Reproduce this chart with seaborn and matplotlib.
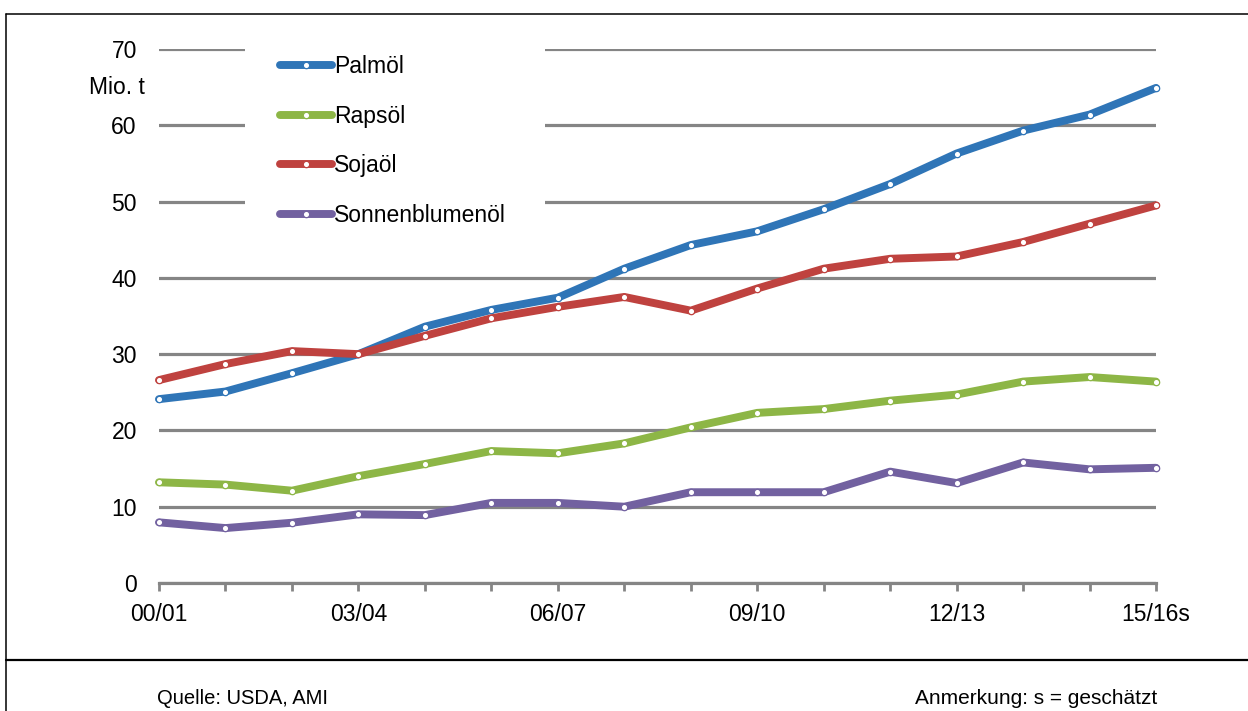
import matplotlib
matplotlib.use("Agg")
import matplotlib.pyplot as plt
from matplotlib.lines import Line2D
from matplotlib.patches import Rectangle
import numpy as np
import pandas as pd
import seaborn as sns

# Marketing years
years = ["00/01", "01/02", "02/03", "03/04", "04/05", "05/06", "06/07", "07/08",
         "08/09", "09/10", "10/11", "11/12", "12/13", "13/14", "14/15", "15/16s"]

# Production in Mio. t
palmoel = [24.1, 25.1, 27.5, 30.0, 33.6, 35.8, 37.4, 41.2,
           44.3, 46.1, 49.0, 52.3, 56.3, 59.3, 61.4, 64.9]
rapsoel = [13.2, 12.9, 12.1, 14.0, 15.6, 17.3, 17.0, 18.3,
           20.4, 22.3, 22.8, 23.9, 24.7, 26.4, 27.0, 26.4]
sojaoel = [26.6, 28.7, 30.4, 30.0, 32.4, 34.7, 36.2, 37.5,
           35.7, 38.6, 41.2, 42.5, 42.8, 44.7, 47.1, 49.5]
sonnenblumenoel = [7.95, 7.2, 7.9, 9.0, 8.9, 10.5, 10.5, 10.0,
                   11.9, 11.9, 11.9, 14.6, 13.1, 15.8, 14.9, 15.1]

series_names = ["Palmöl", "Rapsöl", "Sojaöl", "Sonnenblumenöl"]
series_values = [palmoel, rapsoel, sojaoel, sonnenblumenoel]
series_colors = ["#2F75B7", "#8DB646", "#BF423F", "#7261A0"]

y_ticks = [0, 10, 20, 30, 40, 50, 60, 70]
x_label_every = 3

sns.set_theme(style="white")
plt.rcParams["font.family"] = ["Liberation Sans", "DejaVu Sans"]
plt.rcParams["text.color"] = "black"
plt.rcParams["xtick.color"] = "black"
plt.rcParams["ytick.color"] = "black"

fig = plt.figure(figsize=(12.48, 7.11), dpi=100)
W, H = 1248, 711
ax = fig.add_axes([159 / W, 1 - 583 / H, (1156 - 159) / W, (583 - 49) / H])

grid_gray = "#858585"
line_w = 5.7

pos = np.arange(len(years))
for name, vals, col in zip(series_names, series_values, series_colors):
    df = pd.DataFrame({"pos": pos, "wert": vals})
    sns.lineplot(data=df, x="pos", y="wert", ax=ax, color=col, lw=line_w,
                 marker="o", markersize=4.6, markerfacecolor="white",
                 markeredgecolor=col, markeredgewidth=0.9, label=name,
                 solid_capstyle="round", solid_joinstyle="round", clip_on=False,
                 zorder=3)

ax.set_xlim(0, len(years) - 1)
ax.set_ylim(0, 70)
ax.set_yticks(y_ticks)
ax.set_yticklabels([str(v) for v in y_ticks])
ax.set_xticks(pos)
ax.set_xticklabels([y if i % x_label_every == 0 else "" for i, y in enumerate(years)])
ax.set_xlabel("")
ax.set_ylabel("")

ax.set_axisbelow(True)
ax.yaxis.grid(True, color=grid_gray, lw=2.3)
ax.xaxis.grid(False)
for s in ["top", "right", "left"]:
    ax.spines[s].set_visible(False)
ax.spines["bottom"].set_color(grid_gray)
ax.spines["bottom"].set_linewidth(2.3)
ax.spines["bottom"].set_zorder(0.6)

ax.tick_params(axis="y", length=0, pad=16, labelsize=16.5, labelcolor="black")
ax.tick_params(axis="x", direction="out", length=5.5, width=2.0, color=grid_gray,
               pad=9, labelsize=16.5, labelcolor="black", bottom=True)

# White panel behind the legend
ax.add_artist(Rectangle(((245 - 159) / 997, (583 - 245) / 534), 300 / 997, 220 / 534,
                        transform=ax.transAxes, facecolor="white", edgecolor="none",
                        clip_on=False, zorder=1.5))

leg = ax.legend(loc="upper left", bbox_to_anchor=(280 / W, 1 - 55 / H),
                bbox_transform=fig.transFigure, frameon=False, fontsize=16.5,
                handlelength=2.25, handletextpad=0.1, labelspacing=1.16,
                borderpad=0, borderaxespad=0, numpoints=1)
for h in leg.get_lines():
    h.set_linewidth(line_w)
    h.set_solid_capstyle("round")

fig.text(145 / W, 1 - 87 / H, "Mio. t", ha="right", va="center", fontsize=16.5)

# Frame and footer
frame_kw = dict(color="black", lw=1.1, transform=fig.transFigure)
fig.add_artist(Line2D([6 / W, 1], [1 - 14 / H, 1 - 14 / H], **frame_kw))
fig.add_artist(Line2D([6 / W, 6 / W], [0, 1 - 14 / H], **frame_kw))
fig.add_artist(Line2D([6 / W, 1], [1 - 660 / H, 1 - 660 / H], color="black", lw=1.6,
                      transform=fig.transFigure))

fig.text(157 / W, 1 - 698 / H, "Quelle: USDA, AMI", ha="left", va="center", fontsize=14.5)
fig.text(1157 / W, 1 - 698 / H, "Anmerkung: s = geschätzt", ha="right", va="center",
         fontsize=15)

fig.savefig("out.png", dpi=100)
